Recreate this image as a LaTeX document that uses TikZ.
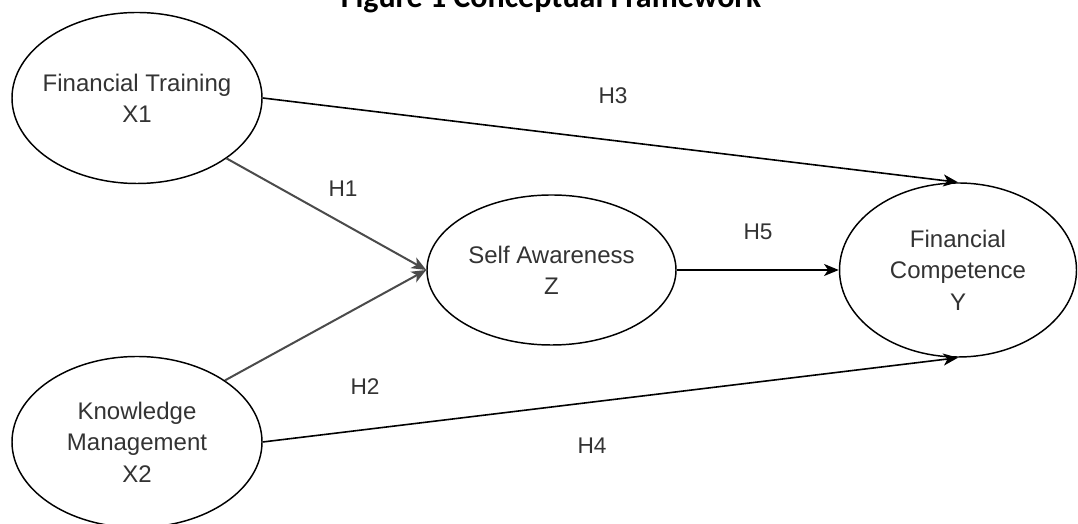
\documentclass[tikz,border=0pt]{standalone}
\usepackage{fontspec}
\setmainfont{Liberation Sans}
\newfontfamily\titlefont{Carlito}
\usetikzlibrary{shapes.geometric}
\usetikzlibrary{arrows.meta}

\tikzset{
  construct/.style={ellipse,draw=drawColor,line width=1.1pt,inner sep=0pt,fill=white},
  ctext/.style={text=textColor,align=center,inner sep=0pt,font=\fontsize{18}{23.5}\selectfont},
  hlabel/.style={text=textColor,inner sep=0pt,font=\fontsize{17}{20}\selectfont},
  link/.style={draw=drawColor,line width=1.2pt,-{Stealth[length=11pt,width=9pt,inset=3pt]}},
  greylink/.style={link,draw=greyColor,line width=1.5pt}
}

\begin{document}
\begin{tikzpicture}[x=0.75pt,y=0.75pt]
\definecolor{drawColor}{RGB}{0,0,0}
\definecolor{textColor}{RGB}{51,51,51}
\definecolor{greyColor}{RGB}{75,75,75}
\path[use as bounding box,fill=white] (0,0) rectangle (1078,524);
\clip (0,0) rectangle (1078,524);

% title, cut at the top edge
\node[anchor=base,inner sep=0pt,font=\titlefont\bfseries\fontsize{24}{28}\selectfont] (title) at (551,516) {Figure 1 Conceptual Framework};

% constructs
\node[construct,minimum width=187.5pt,minimum height=128.25pt] (x1) at (137,426) {};
\node[construct,minimum width=187.5pt,minimum height=128.25pt] (x2) at (137,82) {};
\node[construct,minimum width=186.75pt,minimum height=112.5pt] (z) at (551.5,254) {};
\node[construct,minimum width=177.75pt,minimum height=130.5pt] (y) at (958,254) {};

\node[ctext] (x1txt) at (x1) {Financial Training\\X1};
\node[ctext] (x2txt) at (x2) {Knowledge\\Management\\X2};
\node[ctext] (ztxt) at (z) {Self Awareness\\Z};
\node[ctext] (ytxt) at (y) {Financial\\Competence\\Y};

% paths
\draw[greylink] (x1.-34) -- (z.west);
\draw[greylink] (x2.35) -- (z.west);
\draw[link] (x1.east) -- (y.north);
\draw[link] (x2.east) -- (y.south);
\draw[link] (z.east) -- (y.west);

\node[hlabel] (h1) at (343,335) {H1};
\node[hlabel] (h2) at (365,137) {H2};
\node[hlabel] (h3) at (613,428) {H3};
\node[hlabel] (h4) at (592,78) {H4};
\node[hlabel] (h5) at (758,292) {H5};
\end{tikzpicture}
\end{document}
